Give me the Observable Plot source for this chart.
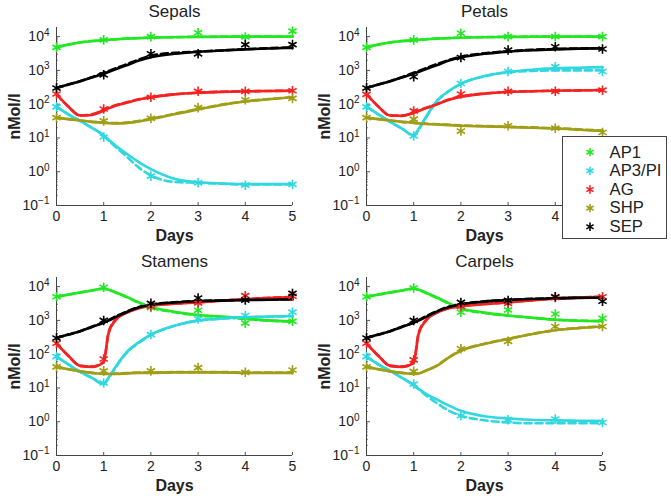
<!DOCTYPE html>
<html><head><meta charset="utf-8">
<script src="https://cdn.jsdelivr.net/npm/d3@7"></script>
<script src="https://cdn.jsdelivr.net/npm/@observablehq/plot@0.6"></script>
<style>
body{margin:0;background:#fff;font-family:"Liberation Sans",Arial,sans-serif;}
#root{position:relative;width:671px;height:498px;overflow:hidden;background:#fff;}
.panel{position:absolute;}
#legend{position:absolute;left:562px;top:136px;z-index:5;}
</style></head><body><div id="root"></div>
<script>
// ---------- data ----------
const genes = ["AP1", "AP3/PI", "AG", "SHP", "SEP"];
const geneColors = ["#22e822", "#2fd8e0", "#f52222", "#a09e14", "#000000"];
const organs = ["Sepals", "Petals", "Stamens", "Carpels"];
const days = [0, 1, 2, 3, 4, 5];
const times = [0, 0.25, 0.5, 0.75, 1, 1.1, 1.25, 1.5, 1.75, 2, 2.5, 3, 3.5, 4, 4.5, 5];
const yTicks = [0.1, 1, 10, 100, 1000, 10000];
const yTickLabels = ["10^−1", "10^0", "10^1", "10^2", "10^3", "10^4"];

// rows: AP1, AP3/PI, AG, SHP, SEP
const sepalsPts = [
  [4800, 8000, 10000, 13000, 9800, 14500],
  [83, 10.7, 0.74, 0.47, 0.40, 0.42],
  [200, 72, 160, 240, 240, 250],
  [40, 32, 38, 79, 135, 148],
  [300, 740, 3100, 3100, 5800, 5800]
];
const sepalsFit = [
  [4800, 5800, 6700, 7400, 7900, 8100, 8300, 8700, 9000, 9300, 9600, 9800, 9900, 10000, 10000, 10000],
  [85, 50, 32, 20, 12, 9, 6, 3.3, 1.9, 1.2, 0.62, 0.49, 0.45, 0.43, 0.43, 0.43],
  [200, 85, 46, 48, 64, 75, 90, 112, 138, 160, 195, 218, 232, 240, 245, 250],
  [40, 36, 33, 30, 28, 27.5, 27, 28, 31, 36, 50, 70, 95, 120, 140, 160],
  [300, 380, 480, 620, 800, 900, 1080, 1450, 1950, 2450, 3100, 3550, 3900, 4200, 4450, 4650]
];
const sepalsDash = [
  [4800, 5800, 6700, 7400, 7900, 8100, 8400, 8800, 9100, 9400, 9700, 9900, 10000, 10100, 10100, 10100],
  [85, 50, 32, 20, 11.5, 8.5, 5.5, 2.7, 1.3, 0.78, 0.5, 0.47, 0.44, 0.42, 0.42, 0.43],
  [200, 85, 46, 50, 68, 78, 93, 115, 140, 162, 197, 220, 233, 241, 246, 251],
  [40, 36, 33, 30, 28.5, 28, 27.5, 28.5, 32, 37, 52, 72, 97, 122, 142, 160],
  [300, 380, 480, 630, 850, 960, 1150, 1550, 2100, 2700, 3300, 3600, 3900, 4250, 4550, 4800]
];

const petalsPts = [
  [4800, 8000, 12600, 10000, 10000, 10000],
  [83, 11.5, 410, 930, 1290, 930],
  [195, 63, 200, 240, 240, 260],
  [40, 36, 16, 23, 19.5, 14.5],
  [300, 650, 2400, 4000, 5000, 4300]
];
const petalsFit = [
  [4800, 5800, 6700, 7400, 7900, 8100, 8300, 8700, 9000, 9300, 9600, 9800, 9900, 10000, 10000, 10000],
  [85, 50, 30, 19, 12, 18, 40, 130, 250, 400, 680, 900, 1050, 1150, 1200, 1250],
  [200, 85, 46, 45, 55, 62, 75, 100, 135, 165, 205, 230, 240, 250, 255, 260],
  [40, 36, 33, 30, 28, 27, 26, 25, 24, 23, 22, 21, 20, 19, 17.5, 16],
  [300, 380, 480, 620, 800, 900, 1080, 1450, 1950, 2400, 3100, 3600, 3950, 4200, 4400, 4500]
];
const petalsDash = [
  [4800, 5800, 6700, 7400, 7900, 8100, 8400, 8800, 9100, 9400, 9700, 9900, 10000, 10100, 10100, 10100],
  [85, 50, 30, 19, 11.5, 17, 38, 125, 245, 400, 670, 880, 960, 1000, 1000, 1000],
  [200, 85, 46, 46, 57, 64, 77, 103, 138, 168, 207, 232, 242, 251, 256, 261],
  [40, 36, 33, 30, 28.5, 27.5, 26.5, 25.5, 24.5, 23.5, 22.5, 21.5, 20.5, 19.5, 18, 16.5],
  [300, 380, 480, 630, 850, 960, 1150, 1550, 2050, 2550, 3200, 3700, 4050, 4300, 4450, 4550]
];

const stamensPts = [
  [5000, 9600, 2400, 2000, 830, 940],
  [85, 14, 380, 1100, 1400, 1750],
  [210, 72, 2600, 3300, 5400, 5200],
  [42, 32, 32, 40, 29, 34],
  [300, 1000, 3200, 4600, 4000, 6300]
];
const stamensFit = [
  [5000, 5800, 6700, 7700, 8700, 8200, 6800, 4900, 3400, 2500, 1800, 1450, 1300, 1150, 1000, 930],
  [85, 50, 30, 20, 13, 20, 42, 120, 230, 380, 700, 1000, 1150, 1250, 1300, 1350],
  [210, 90, 45, 42, 58, 400, 1000, 1700, 2300, 2700, 3100, 3400, 3800, 4200, 4600, 4900],
  [42, 36, 31, 28, 26, 26, 26, 27, 28, 28, 29, 29, 29, 28, 28, 28],
  [300, 380, 480, 640, 850, 980, 1250, 1800, 2450, 2900, 3400, 3700, 3850, 4000, 4100, 4200]
];
const stamensDash = [
  [5000, 5800, 6700, 7700, 8700, 8100, 6700, 4800, 3300, 2400, 1750, 1400, 1250, 1100, 980, 920],
  [85, 50, 30, 20, 13, 19, 40, 115, 220, 370, 690, 980, 1120, 1220, 1280, 1330],
  [210, 90, 45, 43, 60, 420, 1050, 1750, 2350, 2750, 3150, 3450, 3850, 4250, 4650, 4950],
  [42, 36, 31, 28, 26.5, 26.5, 26.5, 27.5, 28.5, 28.5, 29.5, 29.5, 29.5, 28.5, 28.5, 28.5],
  [300, 380, 480, 650, 880, 1020, 1300, 1850, 2500, 2950, 3450, 3750, 3900, 4050, 4150, 4250]
];

const carpelsPts = [
  [5000, 9100, 1740, 2040, 1550, 1160],
  [85, 13, 1.5, 1.15, 1.2, 0.95],
  [210, 68, 2600, 3200, 4800, 5000],
  [42, 31, 145, 240, 660, 660],
  [300, 1000, 3400, 3900, 5000, 3700]
];
const carpelsFit = [
  [5000, 5800, 6700, 7700, 8700, 8200, 6700, 4700, 3200, 2300, 1700, 1400, 1200, 1050, 980, 950],
  [85, 50, 32, 20, 12, 9.5, 6.8, 4.5, 3.0, 2.1, 1.45, 1.25, 1.15, 1.1, 1.07, 1.05],
  [210, 90, 45, 42, 55, 380, 950, 1700, 2300, 2600, 3000, 3400, 3900, 4400, 4700, 5000],
  [42, 36, 31, 28, 26, 26.5, 32, 46, 80, 125, 200, 280, 390, 510, 590, 660],
  [300, 380, 480, 640, 850, 980, 1250, 1850, 2500, 3000, 3600, 4000, 4300, 4500, 4650, 4700]
];
const carpelsDash = [
  [5000, 5800, 6700, 7700, 8700, 8100, 6600, 4600, 3100, 2200, 1650, 1380, 1200, 1050, 980, 950],
  [85, 50, 32, 20, 12, 9.3, 6.2, 3.5, 2.1, 1.5, 1.1, 0.95, 0.9, 0.9, 0.9, 0.9],
  [210, 90, 45, 43, 58, 400, 1000, 1750, 2350, 2650, 3050, 3450, 3950, 4450, 4750, 5050],
  [42, 36, 31, 28, 26.5, 27, 32.5, 47, 82, 128, 205, 285, 395, 515, 600, 670],
  [300, 380, 480, 650, 880, 1020, 1300, 1900, 2550, 3050, 3650, 4050, 4350, 4550, 4700, 4750]
];

// ---------- drawing ----------
const FONT = "Liberation Sans, Arial, Helvetica, sans-serif";
const W = 335, H = 248, mL = 56, mR = 43, mT = 27, mB = 43;
const fw = W - mL - mR, fh = H - mT - mB;
const yTop = Math.pow(10, 4.27);
const minorTicks = [];
for (let k = -1; k <= 4; k++) for (let m = 2; m <= 9; m++) { const v = m * Math.pow(10, k); if (v < yTop) minorTicks.push(v); }
const NS = "http://www.w3.org/2000/svg";

function panel(name, pts, fit, dash, left, top) {
  const ptsRows = [], fitRows = [], dashRows = [];
  genes.forEach((g, i) => {
    days.forEach((d, j) => ptsRows.push({gene: g, day: d, v: pts[i][j]}));
    times.forEach((t, j) => {
      fitRows.push({gene: g, t, v: fit[i][j]});
      dashRows.push({gene: g, t, v: dash[i][j]});
    });
  });
  const svg = Plot.plot({
    width: W, height: H, marginLeft: mL, marginRight: mR, marginTop: mT, marginBottom: mB,
    style: {background: "transparent", overflow: "visible", fontFamily: FONT, color: "#222"},
    x: {domain: [0, 5], label: null},
    y: {type: "log", domain: [0.1, yTop], label: null},
    color: {domain: genes, range: geneColors},
    marks: [
      Plot.axisX(days, {tickSize: 0, tickPadding: 6, fontSize: 14, tickFormat: d => String(d), label: null}),
      Plot.axisY(yTicks, {tickSize: 0, tickPadding: 7, fontSize: 14, tickFormat: d => yTickLabels[yTicks.indexOf(d)], label: null}),
      Plot.tickY(minorTicks, {insetRight: fw - 2, stroke: "#666", strokeWidth: 0.8}),
      Plot.tickY(yTicks, {insetRight: fw - 4, stroke: "#555"}),
      Plot.tickX(days, {insetTop: fh - 3, stroke: "#555"}),
      Plot.ruleX([0], {stroke: "#444"}),
      Plot.ruleY([0.1], {stroke: "#444"}),
      Plot.line(dashRows, {x: "t", y: "v", z: "gene", stroke: "gene", strokeWidth: 2.6, strokeDasharray: "7,4", curve: "monotone-x"}),
      Plot.line(fitRows, {x: "t", y: "v", z: "gene", stroke: "gene", strokeWidth: 2.6, curve: "monotone-x"}),
      Plot.dot(ptsRows, {x: "day", y: "v", stroke: "gene", symbol: "asterisk", r: 4.5, strokeWidth: 1.6}),
      Plot.text([name], {frameAnchor: "top", dy: -16, lineAnchor: "middle", textAnchor: "middle", fontSize: 17, fontWeight: "normal", fill: "#222"}),
      Plot.text(["Days"], {frameAnchor: "bottom", dy: 30, lineAnchor: "middle", textAnchor: "middle", fontSize: 16, fontWeight: "bold", fill: "#222"}),
      Plot.text(["nMol/l"], {frameAnchor: "left", dx: -42, rotate: -90, lineAnchor: "middle", textAnchor: "middle", fontSize: 16, fontWeight: "bold", fill: "#222"})
    ]
  });
  // superscript exponents on the log tick labels
  svg.querySelectorAll('g[aria-label="y-axis tick label"] text').forEach(t => {
    const s = t.textContent;
    if (!s.includes("^")) return;
    const [b, e] = s.split("^");
    t.textContent = "";
    const t1 = document.createElementNS(NS, "tspan"); t1.textContent = b;
    const t2 = document.createElementNS(NS, "tspan"); t2.textContent = e;
    t2.setAttribute("dy", "-0.55em"); t2.setAttribute("font-size", "10");
    t.append(t1, t2);
  });
  const div = document.createElement("div");
  div.className = "panel";
  div.style.left = left + "px"; div.style.top = top + "px";
  div.appendChild(svg);
  document.getElementById("root").appendChild(div);
}

panel(organs[0], sepalsPts, sepalsFit, sepalsDash, 0, 0);
panel(organs[1], petalsPts, petalsFit, petalsDash, 310, 0);
panel(organs[2], stamensPts, stamensFit, stamensDash, 0, 250);
panel(organs[3], carpelsPts, carpelsFit, carpelsDash, 310, 250);

// legend
const leg = Plot.plot({
  width: 105, height: 103, margin: 0, marginTop: 14, marginBottom: 11,
  style: {background: "#fff", fontFamily: FONT, color: "#222", border: "1px solid #444", boxSizing: "border-box"},
  y: {type: "point", domain: genes, padding: 0, axis: null},
  color: {domain: genes, range: geneColors},
  marks: [
    Plot.dot(genes, {y: d => d, frameAnchor: "left", dx: 27, stroke: d => d, symbol: "asterisk", r: 4, strokeWidth: 1.6}),
    Plot.text(genes, {y: d => d, frameAnchor: "left", dx: 47, textAnchor: "start", fontSize: 17, fill: "#222"})
  ]
});
const ld = document.createElement("div");
ld.id = "legend";
ld.appendChild(leg);
document.getElementById("root").appendChild(ld);
</script>
</body></html>
